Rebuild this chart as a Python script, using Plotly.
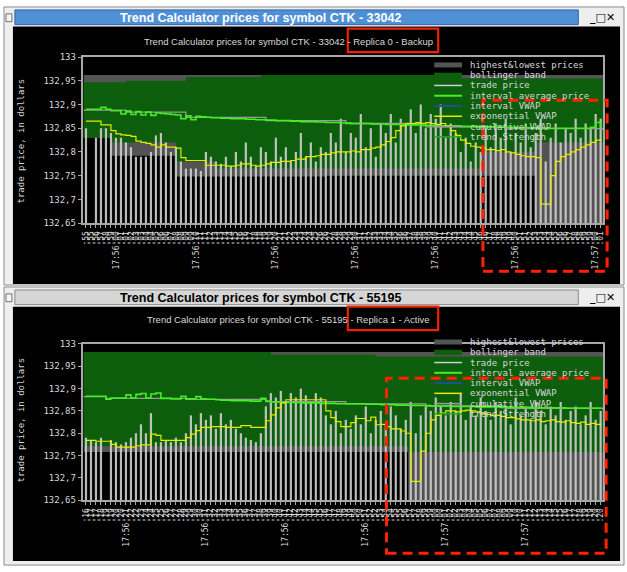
import plotly.graph_objects as go

W, H = 627, 572
MONO = "DejaVu Sans Mono"

# ---------------- data ----------------
n_ticks = 104

top_secs = ("55 55 56 57 58 59 "
            "00 01 01 02 03 03 04 04 05 06 06 07 08 08 09 09 "
            "10 11 11 12 13 13 14 14 15 16 16 17 18 18 19 19 "
            "20 21 21 22 23 23 24 24 25 26 26 27 28 28 29 29 "
            "30 31 31 32 33 33 34 34 35 36 36 37 38 38 39 39 "
            "40 41 41 42 43 43 44 44 45 46 46 47 48 48 49 49 "
            "50 51 51 52 53 53 54 54 55 56 56 57 58 58 59 59 00 01").split()
top_minute_idx = [6, 22, 38, 54, 70, 86, 102]
top_minute_txt = ["17:56", "17:56", "17:56", "17:56", "17:56", "17:56", "17:57"]

bot_secs = ("16 17 17 18 19 19 20 20 21 22 22 23 24 24 25 25 "
            "26 27 27 28 29 29 30 30 31 32 32 33 34 34 35 35 "
            "36 37 37 38 39 39 40 40 41 42 42 43 44 44 45 45 "
            "46 47 47 48 49 49 50 50 51 52 52 53 54 54 55 55 "
            "56 57 57 58 59 59 00 00 01 02 02 03 04 04 05 05 "
            "06 07 07 08 09 09 10 10 11 12 12 13 14 14 15 15 "
            "16 17 17 18 19 19 20 20").split()
bot_minute_idx = [8, 24, 40, 56, 72, 88]
bot_minute_txt = ["17:56", "17:56", "17:56", "17:56", "17:57", "17:57"]

y_ticks = [132.65, 132.7, 132.75, 132.8, 132.85, 132.9, 132.95, 133.0]
y_tick_text = ["132,65", "132,7", "132,75", "132,8", "132,85", "132,9", "132,95", "133"]

# band breakpoints (category positions) and levels
top_band_x = [-0.5, 5, 8, 18, 20, 26, 35, 48, 75, 79, 90, 103.5]
top_high = [132.962] * 12
top_boll_up = [132.947, 132.947, 132.95, 132.95, 132.958, 132.958, 132.962, 132.962,
               132.955, 132.955, 132.955, 132.955]
top_boll_lo = [132.83, 132.82, 132.82, 132.78, 132.78, 132.765, 132.765, 132.765,
               132.765, 132.80, 132.82, 132.82]
top_low = [132.83, 132.792, 132.792, 132.748, 132.748, 132.748, 132.748, 132.75,
           132.75, 132.75, 132.60, 132.60]

bot_band_x = [-0.5, 37, 58, 64.5, 103.5]
bot_high = [132.982, 132.982, 132.982, 132.982, 132.982]
bot_boll_up = [132.982, 132.976, 132.972, 132.972, 132.972]
bot_boll_lo = [132.771, 132.771, 132.771, 132.758, 132.758]
bot_low = [132.758, 132.758, 132.758, 132.60, 132.60]

top_trade = [132.85, None, 132.83, 132.85, 132.85, 132.84, 132.83, 132.83, 132.82, 132.81,
             132.79, 132.79, 132.79, 132.80, 132.835, 132.84, 132.82, 132.80, 132.81, 132.78,
             132.765, 132.765, 132.765, 132.76, 132.80, 132.79, 132.78, 132.775, 132.79, 132.77,
             132.80, 132.78, 132.82, 132.79, 132.77, 132.81, 132.80, 132.78, 132.83, 132.79,
             132.81, 132.78, 132.80, 132.84, 132.79, 132.82, 132.78, 132.81, 132.80, 132.84,
             132.82, 132.87, 132.80, 132.84, 132.83, 132.88, 132.81, 132.85, 132.79, 132.86,
             132.84, 132.88, 132.82, 132.87, 132.86, 132.89, 132.84, 132.90, 132.85, 132.88,
             132.87, 132.90, 132.83, 132.86, 132.84, 132.80, 132.83, 132.78, 132.82, 132.80,
             132.85, 132.81, 132.86, 132.83, 132.87, 132.80, 132.84, 132.82, 132.86, 132.81,
             132.84, 132.87, 132.78, 132.83, 132.86, 132.82, 132.85, 132.84, 132.87, 132.83,
             132.86, 132.85, 132.88, 132.87]

bot_trade = [132.79, 132.785, 132.78, 132.79, None, 132.785, 132.78, 132.775, 132.78, 132.79,
             132.80, 132.82, 132.80, 132.845, 132.78,
             132.78, 132.785, 132.78, 132.79, 132.78,
             132.80, 132.84, 132.82, 132.845, 132.83, 132.84, 132.81, 132.845, 132.82, 132.83,
             132.81, 132.80, 132.79, 132.785, 132.78, 132.80,
             132.86, 132.89, 132.88, 132.895, 132.87, 132.89, 132.88, 132.90, 132.885, 132.87,
             132.89, 132.88,
             132.84, 132.82, 132.85, 132.80, 132.83, 132.81, 132.84, 132.82, 132.86, 132.80, 132.83,
             132.85, 132.82, 132.86, 132.84, 132.81, 132.83, 132.87, 132.80, 132.84, 132.86,
             132.85, 132.88,
             132.86, 132.84, 132.87, 132.85, 132.89, 132.83, 132.86, 132.84, 132.88, 132.85,
             132.83, 132.87, 132.85, 132.86, 132.82, 132.88, 132.84, 132.86, 132.83, 132.87,
             132.85, 132.82, 132.86, 132.84, 132.87, 132.83, 132.85, 132.86, 132.82, 132.84,
             132.87, 132.83, 132.85]

top_avg = [132.89, 132.89, 132.89, 132.894, 132.89, 132.887, 132.887, 132.88, 132.886, 132.879,
           132.885, 132.878, 132.884, 132.877, 132.882, 132.881, 132.88, 132.879, 132.878, 132.87,
           132.876, 132.868, 132.875, 132.874, 132.873, 132.872, 132.872, 132.871, 132.871, 132.87,
           132.87, 132.87, 132.869, 132.869, 132.868, 132.868, 132.867, 132.867, 132.866, 132.866,
           132.866, 132.865, 132.865, 132.864, 132.864, 132.864, 132.863, 132.863, 132.862, 132.862,
           132.862, 132.861, 132.861, 132.86, 132.86, 132.86, 132.86, 132.859, 132.859, 132.859,
           132.858, 132.858, 132.858, 132.858, 132.857, 132.857, 132.857, 132.856, 132.856, 132.856,
           132.856, 132.855, 132.855, 132.855, 132.855, 132.854, 132.854, 132.854, 132.853, 132.853,
           132.853, 132.853, 132.852, 132.852, 132.852, 132.852, 132.851, 132.851, 132.851, 132.851,
           132.851, 132.85, 132.85, 132.85, 132.85, 132.85, 132.85, 132.85, 132.85, 132.85,
           132.85, 132.852, 132.862, 132.852]

bot_avg = [132.883, 132.883, 132.883, 132.883, 132.876,
           132.879, 132.879, 132.879, 132.886, 132.879, 132.887, 132.889, 132.879, 132.888, 132.89,
           132.878, 132.878, 132.877, 132.877, 132.883, 132.877, 132.877, 132.882, 132.877, 132.876,
           132.876, 132.875, 132.874, 132.874, 132.873, 132.873, 132.873, 132.873, 132.872, 132.872,
           132.878, 132.872, 132.87, 132.87, 132.869, 132.869, 132.869, 132.869, 132.868, 132.868,
           132.868, 132.868, 132.867, 132.867, 132.867, 132.866, 132.866, 132.866, 132.866, 132.866,
           132.866, 132.865, 132.865, 132.865, 132.864, 132.864, 132.864, 132.863, 132.863, 132.863,
           132.862, 132.862, 132.862, 132.862, 132.861, 132.861, 132.861, 132.861, 132.86, 132.86,
           132.86, 132.86, 132.86, 132.859, 132.859, 132.859, 132.859, 132.859, 132.858, 132.858,
           132.858, 132.858, 132.858, 132.858, 132.857, 132.857, 132.857, 132.857, 132.857, 132.857,
           132.857, 132.856, 132.856, 132.856, 132.856, 132.856, 132.856, 132.856, 132.856]

top_cum_x = [-0.5, 8, 20, 36, 52, 68, 84, 103.5]
top_cum = [132.888, 132.884, 132.873, 132.866, 132.86, 132.853, 132.849, 132.846]
bot_cum_x = [-0.5, 4, 20, 36, 52, 68, 84, 103.5]
bot_cum = [132.882, 132.878, 132.876, 132.871, 132.866, 132.861, 132.856, 132.852]

top_ewap = [132.865, 132.865, 132.865, 132.857, 132.857, 132.845,
            132.838, 132.836, 132.835, 132.833,
            132.823, 132.82, 132.818, 132.815, 132.81, 132.815, 132.81, 132.81, 132.808, 132.788,
            132.782, 132.782, 132.782, 132.782, 132.772, 132.772, 132.772, 132.772,
            132.77, 132.77, 132.772, 132.775, 132.775, 132.772, 132.77,
            132.772, 132.775, 132.778, 132.778, 132.78, 132.78, 132.782, 132.785,
            132.785, 132.79, 132.79, 132.792, 132.795, 132.795, 132.798, 132.80,
            132.80, 132.80, 132.802, 132.80, 132.805, 132.805, 132.808, 132.81, 132.815, 132.822,
            132.83, 132.845, 132.855,
            132.86, 132.86, 132.862, 132.86, 132.862, 132.86, 132.858, 132.86, 132.855,
            132.845, 132.835, 132.825, 132.818, 132.812, 132.81, 132.808,
            132.805, 132.805, 132.803, 132.805, 132.80, 132.798, 132.795, 132.792, 132.79, 132.79, 132.788,
            132.69, 132.69, 132.75, 132.78, 132.79, 132.795,
            132.80, 132.805, 132.81, 132.815, 132.82, 132.825, 132.828]

bot_ewap = [132.784, 132.784, 132.782, 132.782, 132.782, 132.775,
            132.769, 132.769, 132.769, 132.769, 132.772, 132.774, 132.774,
            132.798, 132.795, 132.784, 132.784, 132.784, 132.784, 132.784,
            132.79, 132.798, 132.806, 132.813, 132.813, 132.815, 132.815, 132.815,
            132.813, 132.813, 132.813, 132.817, 132.817, 132.813, 132.813, 132.813,
            132.828, 132.841, 132.857, 132.868,
            132.875, 132.875, 132.875, 132.875, 132.875, 132.875, 132.875, 132.875,
            132.85, 132.835, 132.826, 132.815, 132.815, 132.824, 132.833, 132.833, 132.828, 132.836,
            132.819, 132.82, 132.815, 132.81, 132.81, 132.805, 132.80,
            132.692, 132.692, 132.76, 132.80,
            132.83, 132.84, 132.845, 132.85, 132.85, 132.848, 132.85, 132.852, 132.85, 132.848,
            132.845, 132.842, 132.84, 132.84, 132.838, 132.835, 132.835, 132.832,
            132.83, 132.83, 132.828, 132.83, 132.826, 132.828, 132.83, 132.826,
            132.825, 132.828, 132.824, 132.822, 132.825, 132.82, 132.822, 132.82, 132.818]

legend_names = ["highest&lowest prices", "bollinger band", "trade price",
                "interval average price", "interval VWAP", "exponential VWAP",
                "cumulative VWAP", "trend Strength"]

# ---------------- colours ----------------
C_GRAY_BAND = "#545454"
C_BOLL = "#0d5e0d"
C_TRADE = "#cfcfcf"
C_AVG = "#44ee22"
C_IVWAP = "#1f4f9a"
C_EWAP = "#e8e800"
C_CUM = "#9a9a9a"
C_TREND = "#22aa22"
C_FRAME = "#a8a8a8"
C_TEXT = "#d8d8d8"
legend_style = [(C_GRAY_BAND, 5), (C_BOLL, 5), (C_TRADE, 1.5), (C_AVG, 2),
                (C_IVWAP, 2), (C_EWAP, 1.5), (C_CUM, 1.5), (C_TREND, 1.5)]


def px(x):
    return x / W


def py(y):
    return 1 - y / H


def label(x, y, text, font, **extra):
    d = dict(x=px(x), y=py(y), xref="paper", yref="paper", text=text, showarrow=False,
             xanchor="center", yanchor="middle", font=font)
    d.update(extra)
    return d


fig = go.Figure()


def add_chart(xa, ya, band_x, high, low, boll_up, boll_lo, trades, cum_x, cum, avg, ewap):
    idx = list(range(n_ticks))
    kw = dict(xaxis=xa, yaxis=ya, showlegend=False, hoverinfo="skip")
    fig.add_trace(go.Scatter(x=band_x, y=low, mode="lines", line=dict(width=0, shape="hv"), **kw))
    fig.add_trace(go.Scatter(x=band_x, y=high, mode="lines", line=dict(width=0, shape="hv"),
                             fill="tonexty", fillcolor=C_GRAY_BAND, **kw))
    fig.add_trace(go.Scatter(x=band_x, y=boll_lo, mode="lines", line=dict(width=0, shape="hv"), **kw))
    fig.add_trace(go.Scatter(x=band_x, y=boll_up, mode="lines", line=dict(width=0, shape="hv"),
                             fill="tonexty", fillcolor=C_BOLL, **kw))
    # trade prices as thin vertical bars from the bottom of the axis
    bx, by = [], []
    for i, p in zip(idx, trades):
        if p is None:
            continue
        bx += [i, i, None]
        by += [132.6, p, None]
    fig.add_trace(go.Scatter(x=bx, y=by, mode="lines", line=dict(width=2.2, color=C_TRADE),
                             opacity=0.9, **kw))
    fig.add_trace(go.Scatter(x=cum_x, y=cum, mode="lines",
                             line=dict(width=1.3, color=C_CUM, shape="hv"), **kw))
    fig.add_trace(go.Scatter(x=idx, y=avg, mode="lines",
                             line=dict(width=1.6, color=C_AVG, shape="hv"), **kw))
    fig.add_trace(go.Scatter(x=idx, y=ewap, mode="lines",
                             line=dict(width=1.2, color=C_EWAP, shape="hv"), **kw))


add_chart("x", "y", top_band_x, top_high, top_low, top_boll_up, top_boll_lo,
          top_trade, top_cum_x, top_cum, top_avg, top_ewap)
add_chart("x2", "y2", bot_band_x, bot_high, bot_low, bot_boll_up, bot_boll_lo,
          bot_trade, bot_cum_x, bot_cum, bot_avg, bot_ewap)


def tick_text(secs, minute_idx, minute_txt):
    out = [":" + s for s in secs]
    for i, m in zip(minute_idx, minute_txt):
        out[i] = m + ":" + secs[i]
    return out


x_common = dict(range=[-0.5, n_ticks - 0.5], tickmode="array", tickvals=list(range(n_ticks)),
                tickangle=-90, ticks="outside", ticklen=3, tickcolor=C_FRAME,
                tickfont=dict(family=MONO, size=8, color=C_TEXT),
                showline=True, mirror=True, linecolor=C_FRAME, linewidth=1.5,
                showgrid=False, zeroline=False, fixedrange=True)
y_common = dict(range=[132.65, 133.0], tickmode="array", tickvals=y_ticks, ticktext=y_tick_text,
                ticks="outside", ticklen=4, tickcolor=C_FRAME,
                tickfont=dict(family=MONO, size=9, color=C_TEXT),
                showline=True, mirror=True, linecolor=C_FRAME, linewidth=1.5,
                showgrid=False, zeroline=False, fixedrange=True)

fig.update_layout(
    width=W, height=H, autosize=False,
    margin=dict(l=0, r=0, t=0, b=0),
    paper_bgcolor="white", plot_bgcolor="black",
    showlegend=False,
    xaxis=dict(domain=[px(82), px(605)], anchor="y",
               ticktext=tick_text(top_secs, top_minute_idx, top_minute_txt), **x_common),
    yaxis=dict(domain=[py(222), py(53)], anchor="x", **y_common),
    xaxis2=dict(domain=[px(82), px(605)], anchor="y2",
                ticktext=tick_text(bot_secs, bot_minute_idx, bot_minute_txt), **x_common),
    yaxis2=dict(domain=[py(504), py(345)], anchor="x2", **y_common),
)

shapes = []
annotations = []

# window chrome for both windows
for top, title, active in [(0, "Trend Calculator prices for symbol CTK - 33042", True),
                           (285, "Trend Calculator prices for symbol CTK - 55195", False)]:
    shapes.append(dict(type="rect", xref="paper", yref="paper", layer="below",
                       x0=px(2), x1=px(626), y0=py(top + 285), y1=py(top + 2),
                       fillcolor="#eeeeee", line=dict(color="#8c8c8c", width=1)))
    shapes.append(dict(type="rect", xref="paper", yref="paper", layer="below",
                       x0=px(13), x1=px(580), y0=py(top + 20), y1=py(top + 5),
                       fillcolor="#4f8fd6" if active else "#d6d6d6",
                       line=dict(color="#2f65a8" if active else "#8a8a8a", width=1)))
    shapes.append(dict(type="rect", xref="paper", yref="paper", layer="below",
                       x0=px(4), x1=px(10), y0=py(top + 17), y1=py(top + 9),
                       fillcolor="#f4f4f4", line=dict(color="#707070", width=1)))
    shapes.append(dict(type="rect", xref="paper", yref="paper", layer="below",
                       x0=px(11), x1=px(622), y0=py(top + 284 if top == 0 else 566),
                       y1=py(top + 22),
                       fillcolor="black", line=dict(width=0)))
    annotations.append(label(260, top + 13, "<b>" + title + "</b>",
                             dict(family="Liberation Sans", size=12.5,
                                  color="white" if active else "black")))
    annotations.append(label(604, top + 13, "<b>_□✕</b>",
                             dict(family="DejaVu Sans", size=11, color="black")))

# chart sub-titles with red highlight boxes
for top, title in [(0, "Trend Calculator prices for symbol CTK - 33042 - Replica 0 - Backup"),
                   (283, "Trend Calculator prices for symbol CTK - 55195 - Replica 1 - Active")]:
    annotations.append(label(288, top + 37.5, title,
                             dict(family="Liberation Sans", size=9.5, color=C_TEXT)))
    shapes.append(dict(type="rect", xref="paper", yref="paper", layer="above",
                       x0=px(348), x1=px(439), y0=py(top + 48), y1=py(top + 24),
                       line=dict(color="#ee2200", width=2.2)))

# y axis titles
for yc in [138, 422]:
    annotations.append(label(19, yc, "trade price, in dollars",
                             dict(family=MONO, size=9, color=C_TEXT), textangle=-90))

# manual legends (compact rows)
for row0 in [61, 343]:
    for i, (name, (col, lw)) in enumerate(zip(legend_names, legend_style)):
        yy = row0 + i * 10.45
        shapes.append(dict(type="line", xref="paper", yref="paper", layer="above",
                           x0=px(435), x1=px(463), y0=py(yy), y1=py(yy),
                           line=dict(color=col, width=lw)))
        annotations.append(label(469, yy, name, dict(family=MONO, size=9, color=C_TEXT),
                                 xanchor="left"))

# red dashed highlight regions
for x0, x1, y0, y1 in [(484, 609, 97, 271), (387, 608, 380, 558)]:
    shapes.append(dict(type="rect", xref="paper", yref="paper", layer="above",
                       x0=px(x0), x1=px(x1), y0=py(y1), y1=py(y0),
                       line=dict(color="#ff2200", width=3, dash="10px,6px")))

fig.update_layout(shapes=shapes, annotations=annotations)
fig.write_html("out.html", config={"displayModeBar": False},
               post_script="document.body.style.margin='0';")
